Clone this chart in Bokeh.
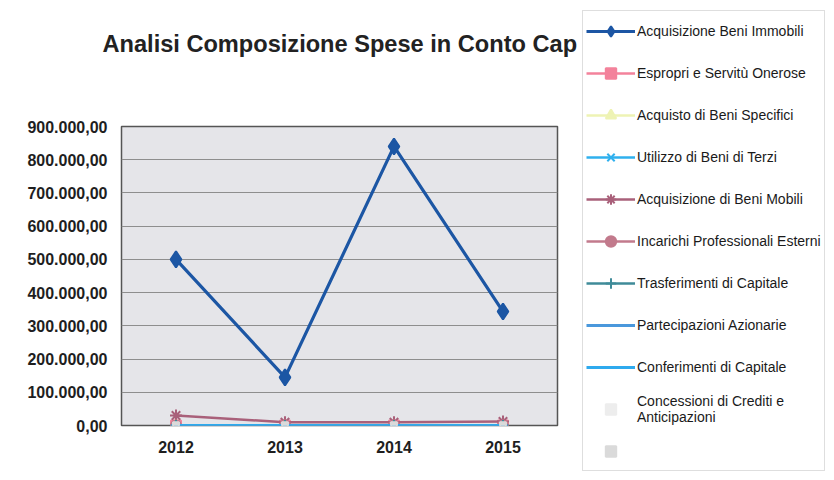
from bokeh.plotting import figure
from bokeh.layouts import row, column
from bokeh.models import Legend, LegendItem, FixedTicker, FactorRange, Range1d, Label
from bokeh.embed import file_html
from bokeh.resources import INLINE

# ---------------- data ----------------
title_text = "Analisi Composizione Spese in Conto Cap"
years = ["2012", "2013", "2014", "2015"]

series_names = [
    "Acquisizione Beni Immobili",
    "Espropri e Servitù Onerose",
    "Acquisto di Beni Specifici",
    "Utilizzo di Beni di Terzi",
    "Acquisizione di Beni Mobili",
    "Incarichi Professionali Esterni",
    "Trasferimenti di Capitale",
    "Partecipazioni Azionarie",
    "Conferimenti di Capitale",
    "Concessioni di Crediti e\nAnticipazioni",
    " ",
]

beni_immobili = [500000, 145000, 840000, 343000]
espropri = [0, 0, 0, 0]
beni_specifici = [0, 0, 0, 0]
beni_terzi = [0, 0, 0, 0]
beni_mobili = [30000, 10000, 10000, 12000]
incarichi = [0, 0, 0, 0]
trasferimenti = [0, 0, 0, 0]
partecipazioni = [0, 0, 0, 0]
conferimenti = [0, 0, 0, 0]
concessioni = [0, 0, 0, 0]
altro = [0, 0, 0, 0]

y_ticks = [0, 100000, 200000, 300000, 400000, 500000, 600000, 700000, 800000, 900000]
y_tick_labels = ["0,00", "100.000,00", "200.000,00", "300.000,00", "400.000,00",
                 "500.000,00", "600.000,00", "700.000,00", "800.000,00", "900.000,00"]

all_series = [beni_immobili, espropri, beni_specifici, beni_terzi, beni_mobili,
              incarichi, trasferimenti, partecipazioni, conferimenti, concessioni, altro]

# ---------------- styles ----------------
styles = [
    dict(color="#1c56a4", marker="diamond", size=16, lw=3.2, line=True),
    dict(color="#f3829b", marker="square", size=10, lw=2.5, line=True),
    dict(color="#eef3b4", marker="triangle", size=11, lw=2.5, line=True),
    dict(color="#2fb0ee", marker="x", size=11, lw=2.5, line=True),
    dict(color="#a9607a", marker="asterisk", size=12, lw=2.5, line=True),
    dict(color="#c27a8c", marker="circle", size=10, lw=2.5, line=True),
    dict(color="#3f8b99", marker="cross", size=11, lw=2.5, line=True),
    dict(color="#4a98dc", marker=None, size=0, lw=3, line=True),
    dict(color="#2eaaee", marker="dash", size=10, lw=3, line=True),
    dict(color="#ededed", marker="square", size=6, lw=0, line=False),
    dict(color="#dadada", marker="square", size=6, lw=0, line=False),
]


def draw_series(fig, vals, st):
    rends = []
    if st["line"]:
        rends.append(fig.line(years, vals, line_color=st["color"], line_width=st["lw"]))
    if st["marker"]:
        rends.append(fig.scatter(years, vals, marker=st["marker"], size=st["size"],
                                 fill_color=st["color"], line_color=st["color"], line_width=2))
    return rends


# ---------------- title strip ----------------
t = figure(
    width=582, height=100, x_range=Range1d(0, 1), y_range=Range1d(0, 1),
    output_backend="svg", toolbar_location=None, title=None,
    x_axis_type=None, y_axis_type=None, min_border=0,
)
t.frame_align = False
t.outline_line_color = None
t.grid.grid_line_color = None
t.add_layout(Label(
    x=102, y=57, x_units="screen", y_units="screen", text=title_text,
    text_font="Liberation Sans", text_font_style="bold", text_font_size="23.6px",
    text_color="#222222", text_baseline="alphabetic",
))

# ---------------- main chart ----------------
p = figure(
    width=582, height=380,
    x_range=FactorRange(*years), y_range=Range1d(0, 900000),
    output_backend="svg", toolbar_location=None, title=None,
    min_border_left=121, min_border_right=25,
    min_border_top=26, min_border_bottom=55,
)
p.frame_align = False
p.background_fill_color = "#e5e5e9"
p.border_fill_color = "white"
p.outline_line_color = "#555555"
p.outline_line_width = 1.5

p.yaxis.ticker = FixedTicker(ticks=y_ticks)
p.yaxis.major_label_overrides = {tk: lb for tk, lb in zip(y_ticks, y_tick_labels)}
for ax in (p.xaxis[0], p.yaxis[0]):
    ax.axis_line_color = None
    ax.major_tick_line_color = None
    ax.minor_tick_line_color = None
    ax.major_tick_out = 0
    ax.major_tick_in = 0
    ax.major_label_text_font = "Liberation Sans"
    ax.major_label_text_font_style = "bold"
    ax.major_label_text_font_size = "16px"
    ax.major_label_text_color = "#1e1e1e"
p.yaxis.major_label_standoff = 14
p.xaxis.major_label_standoff = 15

p.xgrid.grid_line_color = None
p.ygrid.grid_line_color = "#8e8e8e"
p.ygrid.grid_line_width = 1

for vals, st in zip(all_series, styles):
    draw_series(p, vals, st)

# ---------------- legend panel ----------------
lg = figure(
    width=252, height=480,
    x_range=FactorRange(*years), y_range=Range1d(-2000000, -1000000),
    output_backend="svg", toolbar_location=None, title=None,
    x_axis_type=None, y_axis_type=None,
    min_border=0,
)
lg.frame_align = False
lg.outline_line_color = None
lg.grid.grid_line_color = None

items = []
for name, vals, st in zip(series_names, all_series, styles):
    items.append(LegendItem(label=name, renderers=draw_series(lg, vals, st)))

legend = Legend(
    items=items, location=(0, 9),
    padding=3, margin=0, spacing=9,
    glyph_width=49, glyph_height=26, label_height=33, label_standoff=2,
    label_text_font="Liberation Sans", label_text_font_size="14px",
    label_text_color="#1a1a1a",
    border_line_color="#bdbdbd", background_fill_color="white", background_fill_alpha=1,
)
lg.add_layout(legend)

layout = row(column(t, p), lg)
open("out.html", "w").write(file_html(layout, INLINE))
